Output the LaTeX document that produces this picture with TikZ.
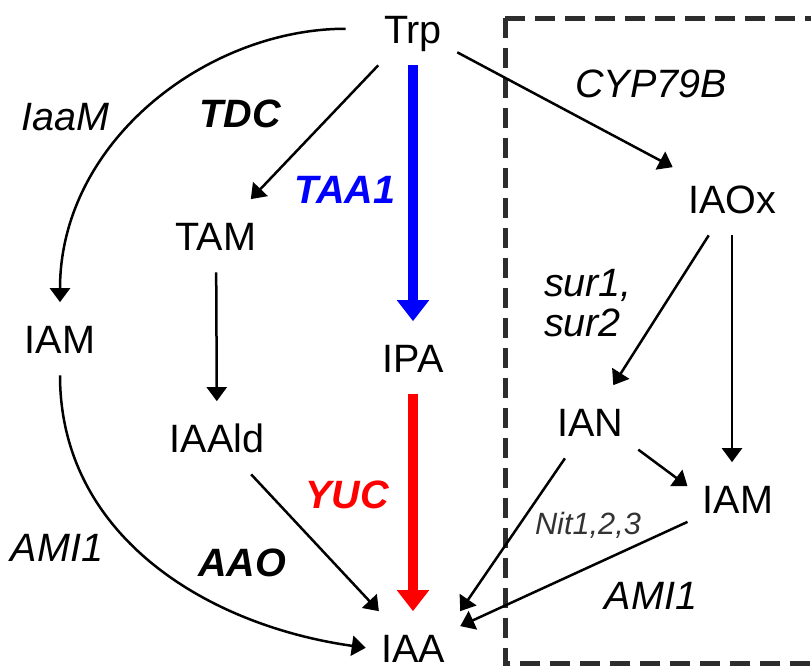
\documentclass[tikz,border=0pt]{standalone}
\usepackage{fontspec}
\setmainfont{Liberation Sans}
\usetikzlibrary{arrows.meta}

\definecolor{taablue}{RGB}{0,0,255}
\definecolor{yucred}{RGB}{255,0,0}
\definecolor{boxgray}{RGB}{45,45,45}

\tikzset{
  metab/.style={font=\fontsize{22.5}{27}\selectfont, text height=0.57cm, text depth=0pt,
    inner xsep=0.3cm, inner ysep=0.44cm, anchor=base},
  enzyme/.style={font=\fontsize{22.5}{22.7}\selectfont\itshape, inner sep=0pt, align=left},
  keyenzyme/.style={font=\fontsize{22.5}{27}\selectfont\bfseries\itshape, inner sep=0pt},
  conv/.style={-{Triangle[length=0.28cm,width=0.4cm]}, line width=0.05cm},
  mainconv/.style={-{Triangle[length=0.42cm,width=0.62cm]}, line width=0.2cm}
}

\begin{document}
\begin{tikzpicture}
  \useasboundingbox (0,0) rectangle (16.22,-13.38);

  % Dashed box (IAOx branch)
  \draw[boxgray, line width=0.1cm, dash pattern=on 0.4cm off 0.2cm] (10.1,-0.36) rectangle (16.6,-13.26);

  % Metabolites
  \node[metab] (trp) at (8.26,-0.86) {Trp};
  \node[metab] (tam) at (4.32,-5.00) {TAM};
  \node[metab] (iamL) at (1.20,-7.06) {IAM};
  \node[metab] (iaald) at (4.34,-9.04) {IAAld};
  \node[metab] (ipa) at (8.26,-7.44) {IPA};
  \node[metab] (iaa) at (8.26,-13.24) {IAA};
  \node[metab] (iaox) at (14.64,-4.26) {IAOx};
  \node[metab] (ian) at (11.80,-8.72) {IAN};
  \node[metab] (iamR) at (14.76,-10.26) {IAM};

  % Enzymes
  \node[enzyme] (iaaM) at (1.30,-2.34) {IaaM};
  \node[keyenzyme] (tdc) at (4.80,-2.28) {TDC};
  \node[keyenzyme, taablue] (taa) at (6.90,-3.80) {TAA1};
  \node[enzyme] (cyp) at (13.02,-1.68) {CYP79B};
  \node[enzyme] (sur) at (11.76,-6.06) {sur1,\\sur2};
  \node[keyenzyme, yucred] (yuc) at (6.94,-9.90) {YUC};
  \node[enzyme] (amiL) at (1.14,-10.96) {AMI1};
  \node[keyenzyme] (aao) at (4.84,-11.26) {AAO};
  \node[enzyme, font=\fontsize{17.5}{21}\selectfont\itshape, black!80] (nit) at (11.76,-10.50) {Nit1,2,3};
  \node[enzyme] (amiR) at (13.02,-11.92) {AMI1};

  % Main route (TAA1 / YUC)
  \draw[mainconv, taablue] (trp) -- (ipa);
  \draw[mainconv, yucred] (ipa) -- (iaa);

  % IAM and TAM routes
  \draw[conv, shorten <=0.46cm] (trp.west) to[out=180,in=90] (iamL.north);
  \draw[conv] (iamL.south) to[out=-90,in=172] (iaa.west);
  \draw[conv] (trp) -- (tam);
  \draw[conv] (tam) -- (iaald);
  \draw[conv] (iaald) -- (iaa);

  % IAOx routes
  \draw[conv] (trp) -- (iaox);
  \draw[conv] (iaox) -- (ian);
  \draw[conv] (iaox.south) -- (iaox.south |- iamR.north);
  \draw[conv] (ian.-30) -- (iamR.166);
  \draw[conv] (ian) -- (iaa.north east);
  \draw[conv] (iamR) -- (iaa);

\end{tikzpicture}
\end{document}
